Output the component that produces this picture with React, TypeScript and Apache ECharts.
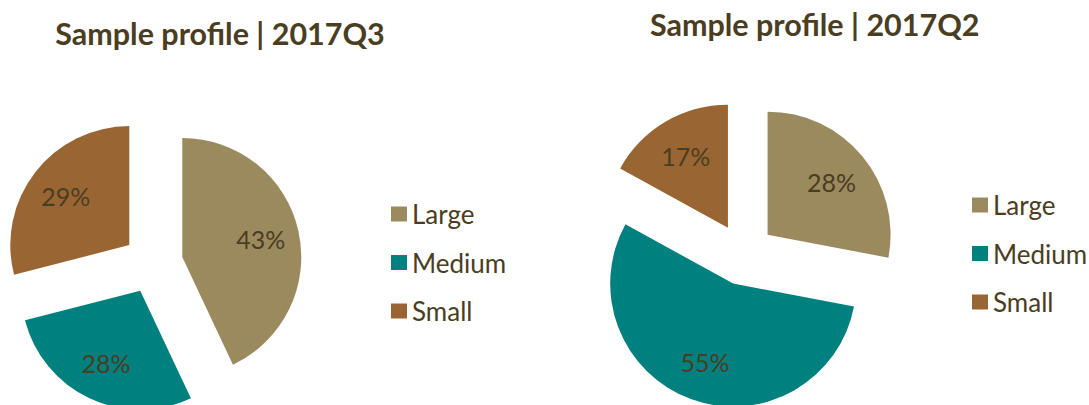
import React, { useEffect, useRef } from "react";
import * as echarts from "echarts";

const categories = ["Large", "Medium", "Small"];
const q3Values = [43, 28, 29];
const q2Values = [28, 55, 17];
const titles = ["Sample profile | 2017Q3", "Sample profile | 2017Q2"];
const colors = ["#9C8A5F", "#00807F", "#996633"];

const TEXT = "#4A3D22";
const FONT = "Lato";

const pies = [
  { values: q3Values, center: [153, 263.5], radius: 119, offset: 30 },
  { values: q2Values, center: [743.7, 254.4], radius: 123, offset: 31 },
];

export default function App() {
  const ref = useRef<HTMLDivElement>(null);
  useEffect(() => {
    if (!ref.current) return;
    const chart = echarts.init(ref.current, undefined, { renderer: "svg" });

    const series = pies.map((p, si) => ({
      type: "pie",
      name: titles[si],
      center: p.center,
      radius: p.radius,
      startAngle: 90,
      clockwise: true,
      selectedMode: "multiple",
      selectedOffset: p.offset,
      avoidLabelOverlap: false,
      animation: false,
      label: {
        show: true,
        position: "inside",
        formatter: "{c}%",
        color: TEXT,
        fontFamily: FONT,
        fontSize: 25,
      },
      labelLine: { show: false },
      itemStyle: { borderWidth: 0 },
      select: { itemStyle: { borderWidth: 0 }, label: { color: TEXT } },
      emphasis: { disabled: true },
      labelLayout: (params: any) => {
        const vals = pies[params.seriesIndex].values;
        const total = vals.reduce((a, b) => a + b, 0);
        let cum = 0;
        for (let i = 0; i < params.dataIndex; i++) cum += vals[i];
        const mid = ((cum + vals[params.dataIndex] / 2) / total) * Math.PI * 2;
        const extra = pies[params.seriesIndex].radius * 0.15;
        return { dx: extra * Math.sin(mid), dy: -extra * Math.cos(mid) };
      },
      data: categories.map((c, i) => ({
        name: c,
        value: p.values[i],
        selected: true,
        itemStyle: { color: colors[i] },
      })),
    }));

    const legendBase = {
      orient: "vertical",
      icon: "rect",
      itemWidth: 16,
      itemHeight: 15,
      itemGap: 22.5,
      selectedMode: false,
      data: categories,
      textStyle: {
        color: TEXT,
        fontFamily: FONT,
        fontSize: 26,
      },
    };

    chart.setOption({
      animation: false,
      color: colors,
      legend: [
        { ...legendBase, left: 386, top: 196 },
        { ...legendBase, left: 967, top: 187 },
      ],
      graphic: [
        {
          type: "text",
          x: 220,
          y: 33,
          style: {
            text: titles[0],
            fill: TEXT,
            font: `bold 30.5px ${FONT}`,
            textAlign: "center",
            textVerticalAlign: "middle",
          },
        },
        {
          type: "text",
          x: 814.7,
          y: 24,
          style: {
            text: titles[1],
            fill: TEXT,
            font: `bold 30.5px ${FONT}`,
            textAlign: "center",
            textVerticalAlign: "middle",
          },
        },
      ],
      series,
    });
    return () => chart.dispose();
  }, []);
  return (
    <div
      ref={ref}
      style={{ position: "absolute", left: 0, top: 0, width: 1089, height: 405, background: "#fff" }}
    />
  );
}
